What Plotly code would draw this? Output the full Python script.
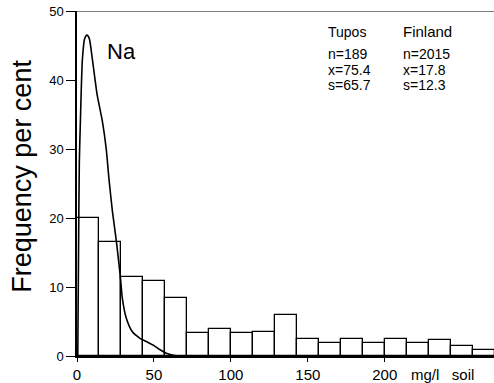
import plotly.graph_objects as go

# Histogram (Tupos, n=189): bin lower edges (mg/l) and frequency (%)
bin_left = [0, 14.3, 28.6, 42.9, 57.1, 71.4, 85.7, 100, 114.3, 128.6,
            142.9, 157.1, 171.4, 185.7, 200, 214.3, 228.6, 242.9, 257.1]
bin_width = 14.3
freq = [20.0, 16.5, 11.4, 10.8, 8.4, 3.3, 3.9, 3.4, 3.55, 5.9,
        2.5, 1.9, 2.5, 1.9, 2.5, 1.9, 2.3, 1.5, 0.9]

# Finland distribution curve
curve_x = [0.5, 1.0, 1.5, 2.2, 3.5, 5, 6.5, 8, 10, 13, 16.5, 19, 20.8, 23,
           25.6, 28.2, 29.5, 32, 36, 40.7, 45, 49.4, 54, 58, 63.4, 66, 271]
curve_y = [0, 15, 28, 34, 43, 46, 46.5, 46, 43, 38, 34, 30, 25.6, 21,
           16.6, 11.4, 8.3, 5.5, 3.5, 2.6, 2.1, 1.6, 0.9, 0.4, 0.05, 0, 0]

x_ticks = [0, 50, 100, 150, 200]
y_ticks = [0, 10, 20, 30, 40, 50]

tupos_stats = ["n=189", "x=75.4", "s=65.7"]
finland_stats = ["n=2015", "x=17.8", "s=12.3"]

FONT = "Liberation Sans"

fig = go.Figure()
fig.add_trace(go.Bar(
    x=bin_left, y=freq, width=bin_width, offset=0,
    marker=dict(color="white", line=dict(color="black", width=1.3)),
    showlegend=False, hoverinfo="skip"))
fig.add_trace(go.Scatter(
    x=curve_x, y=curve_y, mode="lines",
    line=dict(color="black", width=1.6, shape="spline", smoothing=0.6),
    showlegend=False, hoverinfo="skip"))

fig.update_layout(
    width=494, height=383,
    margin=dict(l=77, r=0, t=11, b=25),
    paper_bgcolor="white", plot_bgcolor="white",
    bargap=0,
    font=dict(family=FONT, color="black"),
    xaxis=dict(range=[0, 271], tickvals=x_ticks, ticks="outside", ticklen=4,
               tickwidth=1, tickcolor="black", showline=True, linecolor="black",
               linewidth=2, showgrid=False, zeroline=False,
               tickfont=dict(size=15, family=FONT)),
    yaxis=dict(range=[0, 50], tickvals=y_ticks, ticks="outside", ticklen=9,
               tickwidth=1, tickcolor="black", showline=True, linecolor="black",
               linewidth=1.5, showgrid=False, zeroline=False,
               tickfont=dict(size=13, family=FONT)),
)

# top border
fig.add_shape(type="line", xref="paper", yref="y", x0=0, x1=1, y0=50, y1=50,
              line=dict(color="black", width=1))

ann = []
ann.append(dict(text="Frequency per cent", textangle=-90, xref="paper", yref="paper",
                x=-0.134, y=0.52, xanchor="center", yanchor="middle",
                showarrow=False, font=dict(size=27)))
ann.append(dict(text="Na", xref="x", yref="y", x=29, y=44.2, showarrow=False,
                font=dict(size=22)))
ann.append(dict(text="Tupos", xref="x", yref="y", x=161.8, y=47.0, xanchor="left",
                showarrow=False, font=dict(size=14)))
ann.append(dict(text="Finland", xref="x", yref="y", x=210.8, y=47.0, xanchor="left",
                showarrow=False, font=dict(size=15)))
stat_y = [43.7, 41.4, 39.3]
for s, yy in zip(tupos_stats, stat_y):
    ann.append(dict(text=s, xref="x", yref="y", x=161.8, y=yy, xanchor="left",
                    showarrow=False, font=dict(size=14)))
for s, yy in zip(finland_stats, stat_y):
    ann.append(dict(text=s, xref="x", yref="y", x=210.8, y=yy, xanchor="left",
                    showarrow=False, font=dict(size=14)))
ann.append(dict(text="mg/l&nbsp;&nbsp;&nbsp;soil", xref="x", yref="paper", x=237.5, y=0,
                yanchor="top", yshift=-8, showarrow=False, font=dict(size=15)))
fig.update_layout(annotations=ann)

fig.write_html("out.html")
